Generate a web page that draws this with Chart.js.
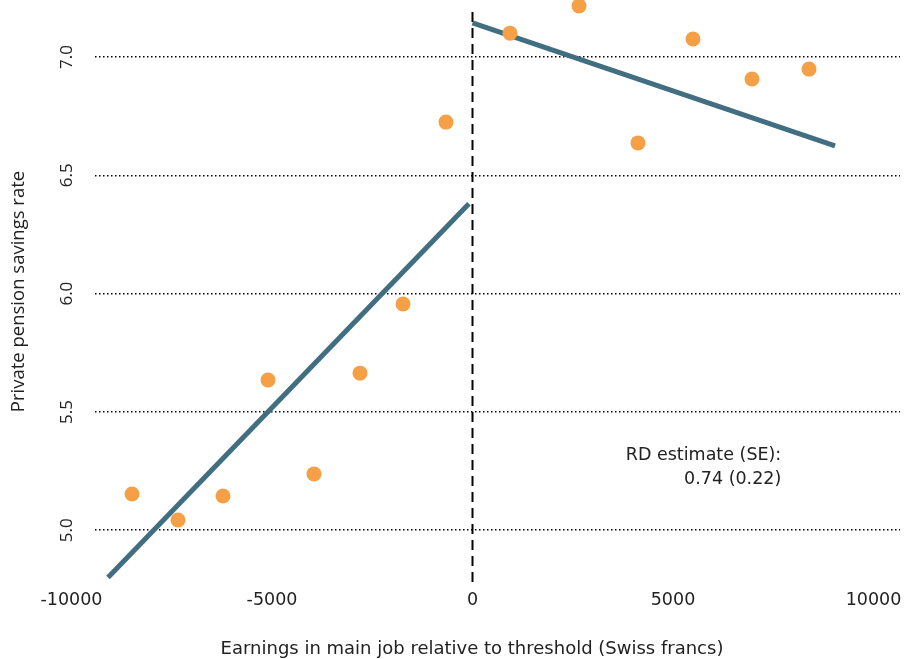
<!DOCTYPE html>
<html>
<head>
<meta charset="utf-8">
<script src="https://cdn.jsdelivr.net/npm/chart.js@4"></script>
<style>
  html, body { margin: 0; padding: 0; background: #fff; }
  #wrap { width: 917px; height: 659px; }
</style>
</head>
<body>
<div id="wrap"><canvas id="rdChart"></canvas></div>
<script>
// binned means
var binX = [-8491, -7344, -6222, -5100, -3953, -2805, -1733, -661, 935, 2656, 4127, 5499, 6970, 8392];
var binY = [5.153, 5.043, 5.145, 5.635, 5.238, 5.664, 5.956, 6.725, 7.101, 7.216, 6.637, 7.076, 6.907, 6.949];

// fitted lines either side of the threshold
var leftFitX = [-9090, -90];
var leftFitY = [4.80, 6.38];
var rightFitX = [0, 9040];
var rightFitY = [7.144, 6.624];

var xTicks = [-10000, -5000, 0, 5000, 10000];
var yTicks = [5.0, 5.5, 6.0, 6.5, 7.0];
var threshold = 0;
var noteLines = ["RD estimate (SE):", "0.74 (0.22)"];
var xTitle = "Earnings in main job relative to threshold (Swiss francs)";

var orange = "#F5A047";
var teal = "#416F81";

function pairs(xs, ys) {
  return xs.map(function (x, i) { return {x: x, y: ys[i]}; });
}

// dashed cutoff line, RD note and x title
var extras = {
  id: "extras",
  beforeDatasetsDraw: function (chart) {
    var ctx = chart.ctx, area = chart.chartArea;
    var px = chart.scales.x.getPixelForValue(threshold);
    ctx.save();
    ctx.strokeStyle = "#000";
    ctx.lineWidth = 2;
    ctx.setLineDash([10, 6]);
    ctx.beginPath();
    ctx.moveTo(px, area.top + 12);
    ctx.lineTo(px, area.bottom);
    ctx.stroke();
    ctx.restore();
  },
  afterDatasetsDraw: function (chart) {
    var ctx = chart.ctx;
    var tx = chart.scales.x.getPixelForValue(7700);
    var ty = chart.scales.y.getPixelForValue(5.314);
    ctx.save();
    ctx.fillStyle = "#222";
    ctx.font = "17.5px 'DejaVu Sans'";
    ctx.textAlign = "right";
    ctx.textBaseline = "middle";
    ctx.fillText(noteLines[0], tx, ty);
    ctx.fillText(noteLines[1], tx, ty + 24);
    ctx.font = "18px 'DejaVu Sans'";
    ctx.textAlign = "center";
    ctx.fillText(xTitle, 472, 649);
    ctx.restore();
  }
};

new Chart("rdChart", {
  type: "scatter",
  data: {
    datasets: [{
      data: pairs(binX, binY),
      backgroundColor: orange,
      borderWidth: 0,
      pointRadius: 7.5,
      pointHoverRadius: 7.5,
      clip: false
    }, {
      type: "line",
      data: pairs(leftFitX, leftFitY),
      borderColor: teal,
      borderWidth: 5,
      pointRadius: 0,
      fill: false
    }, {
      type: "line",
      data: pairs(rightFitX, rightFitY),
      borderColor: teal,
      borderWidth: 5,
      pointRadius: 0,
      fill: false
    }]
  },
  options: {
    responsive: true,
    maintainAspectRatio: false,
    animation: false,
    layout: {autoPadding: false, padding: {top: 0, right: 17, left: 0, bottom: 0}},
    plugins: {legend: {display: false}, tooltip: {enabled: false}},
    scales: {
      x: {
        type: "linear",
        min: -9414,
        max: 10661,
        border: {display: false},
        grid: {display: false},
        afterBuildTicks: function (axis) {
          axis.ticks = xTicks.map(function (v) { return {value: v}; });
        },
        afterFit: function (axis) {
          axis.height = 76;
          axis.paddingLeft = 0;
          axis.paddingRight = 0;
        },
        ticks: {
          color: "#222",
          padding: -1,
          font: {family: "DejaVu Sans", size: 17.5},
          maxRotation: 0,
          callback: function (v) { return String(v); }
        }
      },
      y: {
        min: 4.777,
        max: 7.241,
        border: {display: false, dash: [1.5, 2.5]},
        afterBuildTicks: function (axis) {
          axis.ticks = yTicks.map(function (v) { return {value: v}; });
        },
        afterFit: function (axis) {
          axis.width = 95;
          axis.paddingTop = 0;
          axis.paddingBottom = 0;
        },
        grid: {
          color: "#000",
          lineWidth: 1.5,
          drawTicks: false
        },
        ticks: {
          color: "#222",
          padding: 16,
          crossAlign: "center",
          minRotation: 90,
          maxRotation: 90,
          font: {family: "Open Sans", size: 17},
          callback: function (v) { return v.toFixed(1); }
        },
        title: {
          display: true,
          text: "Private pension savings rate",
          color: "#222",
          font: {family: "Open Sans", size: 18.5},
          padding: {top: 8, bottom: 0}
        }
      }
    }
  },
  plugins: [extras]
});
</script>
</body>
</html>
